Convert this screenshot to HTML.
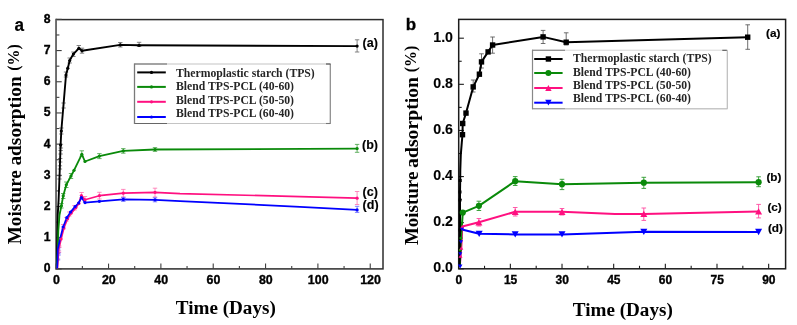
<!DOCTYPE html>
<html><head><meta charset="utf-8"><style>
html,body{margin:0;padding:0;background:#fff;}
svg{display:block;will-change:transform;}
</style></head><body>
<svg width="797" height="325" viewBox="0 0 797 325">
<rect width="797" height="325" fill="#fff"/>
<rect x="56.2" y="19.6" width="326.8" height="249.3" fill="none" stroke="#2c2c2c" stroke-width="1.5"/>
<line x1="56.2" y1="18.85" x2="56.2" y2="269.65" stroke="#6a6a6a" stroke-width="1.6"/>
<line x1="56.2" y1="268.9" x2="61.7" y2="268.9" stroke="#404040" stroke-width="1.1"/>
<text x="50.6" y="272.3" font-family="Liberation Sans" font-size="12.2" font-weight="bold" text-anchor="end" stroke="#000" stroke-width="0.35" >0</text>
<line x1="56.2" y1="253.3" x2="59.4" y2="253.3" stroke="#404040" stroke-width="1.1"/>
<line x1="56.2" y1="237.71" x2="61.7" y2="237.71" stroke="#404040" stroke-width="1.1"/>
<text x="50.6" y="241.11" font-family="Liberation Sans" font-size="12.2" font-weight="bold" text-anchor="end" stroke="#000" stroke-width="0.35" >1</text>
<line x1="56.2" y1="222.11" x2="59.4" y2="222.11" stroke="#404040" stroke-width="1.1"/>
<line x1="56.2" y1="206.52" x2="61.7" y2="206.52" stroke="#404040" stroke-width="1.1"/>
<text x="50.6" y="209.92" font-family="Liberation Sans" font-size="12.2" font-weight="bold" text-anchor="end" stroke="#000" stroke-width="0.35" >2</text>
<line x1="56.2" y1="190.92" x2="59.4" y2="190.92" stroke="#404040" stroke-width="1.1"/>
<line x1="56.2" y1="175.33" x2="61.7" y2="175.33" stroke="#404040" stroke-width="1.1"/>
<text x="50.6" y="178.73" font-family="Liberation Sans" font-size="12.2" font-weight="bold" text-anchor="end" stroke="#000" stroke-width="0.35" >3</text>
<line x1="56.2" y1="159.73" x2="59.4" y2="159.73" stroke="#404040" stroke-width="1.1"/>
<line x1="56.2" y1="144.14" x2="61.7" y2="144.14" stroke="#404040" stroke-width="1.1"/>
<text x="50.6" y="147.54" font-family="Liberation Sans" font-size="12.2" font-weight="bold" text-anchor="end" stroke="#000" stroke-width="0.35" >4</text>
<line x1="56.2" y1="128.54" x2="59.4" y2="128.54" stroke="#404040" stroke-width="1.1"/>
<line x1="56.2" y1="112.95" x2="61.7" y2="112.95" stroke="#404040" stroke-width="1.1"/>
<text x="50.6" y="116.35" font-family="Liberation Sans" font-size="12.2" font-weight="bold" text-anchor="end" stroke="#000" stroke-width="0.35" >5</text>
<line x1="56.2" y1="97.35" x2="59.4" y2="97.35" stroke="#404040" stroke-width="1.1"/>
<line x1="56.2" y1="81.76" x2="61.7" y2="81.76" stroke="#404040" stroke-width="1.1"/>
<text x="50.6" y="85.16" font-family="Liberation Sans" font-size="12.2" font-weight="bold" text-anchor="end" stroke="#000" stroke-width="0.35" >6</text>
<line x1="56.2" y1="66.16" x2="59.4" y2="66.16" stroke="#404040" stroke-width="1.1"/>
<line x1="56.2" y1="50.57" x2="61.7" y2="50.57" stroke="#404040" stroke-width="1.1"/>
<text x="50.6" y="53.97" font-family="Liberation Sans" font-size="12.2" font-weight="bold" text-anchor="end" stroke="#000" stroke-width="0.35" >7</text>
<line x1="56.2" y1="34.97" x2="59.4" y2="34.97" stroke="#404040" stroke-width="1.1"/>
<line x1="56.2" y1="19.38" x2="61.7" y2="19.38" stroke="#404040" stroke-width="1.1"/>
<text x="50.6" y="22.78" font-family="Liberation Sans" font-size="12.2" font-weight="bold" text-anchor="end" stroke="#000" stroke-width="0.35" >8</text>
<line x1="56.2" y1="268.9" x2="56.2" y2="263.6" stroke="#404040" stroke-width="1.1"/>
<text x="56.5" y="284.2" font-family="Liberation Sans" font-size="12.4" font-weight="bold" text-anchor="middle" stroke="#000" stroke-width="0.35" >0</text>
<line x1="82.37" y1="268.9" x2="82.37" y2="265.9" stroke="#404040" stroke-width="1.1"/>
<line x1="108.54" y1="268.9" x2="108.54" y2="263.6" stroke="#404040" stroke-width="1.1"/>
<text x="108.84" y="284.2" font-family="Liberation Sans" font-size="12.4" font-weight="bold" text-anchor="middle" stroke="#000" stroke-width="0.35" >20</text>
<line x1="134.71" y1="268.9" x2="134.71" y2="265.9" stroke="#404040" stroke-width="1.1"/>
<line x1="160.88" y1="268.9" x2="160.88" y2="263.6" stroke="#404040" stroke-width="1.1"/>
<text x="161.18" y="284.2" font-family="Liberation Sans" font-size="12.4" font-weight="bold" text-anchor="middle" stroke="#000" stroke-width="0.35" >40</text>
<line x1="187.05" y1="268.9" x2="187.05" y2="265.9" stroke="#404040" stroke-width="1.1"/>
<line x1="213.22" y1="268.9" x2="213.22" y2="263.6" stroke="#404040" stroke-width="1.1"/>
<text x="213.52" y="284.2" font-family="Liberation Sans" font-size="12.4" font-weight="bold" text-anchor="middle" stroke="#000" stroke-width="0.35" >60</text>
<line x1="239.39" y1="268.9" x2="239.39" y2="265.9" stroke="#404040" stroke-width="1.1"/>
<line x1="265.56" y1="268.9" x2="265.56" y2="263.6" stroke="#404040" stroke-width="1.1"/>
<text x="265.86" y="284.2" font-family="Liberation Sans" font-size="12.4" font-weight="bold" text-anchor="middle" stroke="#000" stroke-width="0.35" >80</text>
<line x1="291.73" y1="268.9" x2="291.73" y2="265.9" stroke="#404040" stroke-width="1.1"/>
<line x1="317.9" y1="268.9" x2="317.9" y2="263.6" stroke="#404040" stroke-width="1.1"/>
<text x="318.2" y="284.2" font-family="Liberation Sans" font-size="12.4" font-weight="bold" text-anchor="middle" stroke="#000" stroke-width="0.35" >100</text>
<line x1="344.07" y1="268.9" x2="344.07" y2="265.9" stroke="#404040" stroke-width="1.1"/>
<line x1="370.24" y1="268.9" x2="370.24" y2="263.6" stroke="#404040" stroke-width="1.1"/>
<text x="370.54" y="284.2" font-family="Liberation Sans" font-size="12.4" font-weight="bold" text-anchor="middle" stroke="#000" stroke-width="0.35" >120</text>
<text x="225.8" y="313.6" font-family="Liberation Serif" font-size="18.9" font-weight="bold" text-anchor="middle" textLength="100" lengthAdjust="spacingAndGlyphs">Time (Days)</text>
<text transform="translate(21,244.3) rotate(-90) scale(1.048,1)" font-family="Liberation Serif" font-size="18.3" font-weight="bold">Moisture</text>
<text transform="translate(21,165.6) rotate(-90) scale(1.06,1)" font-family="Liberation Serif" font-size="18.3" font-weight="bold">adsorption</text>
<text transform="translate(18.85,70.85) rotate(-90) scale(1.0,1)" font-family="Liberation Serif" font-size="16" font-weight="bold">(%)</text>
<text transform="translate(14.6,30.6) scale(0.9,1)" font-family="Liberation Sans" font-size="19" font-weight="bold" stroke="#000" stroke-width="0.2">a</text>
<line x1="78.8" y1="45.5" x2="78.8" y2="49.5" stroke="#666" stroke-width="0.8"/>
<line x1="76.6" y1="45.5" x2="81" y2="45.5" stroke="#666" stroke-width="0.8"/>
<line x1="76.6" y1="49.5" x2="81" y2="49.5" stroke="#666" stroke-width="0.8"/>
<line x1="82" y1="48.2" x2="82" y2="53.2" stroke="#666" stroke-width="0.8"/>
<line x1="79.8" y1="48.2" x2="84.2" y2="48.2" stroke="#666" stroke-width="0.8"/>
<line x1="79.8" y1="53.2" x2="84.2" y2="53.2" stroke="#666" stroke-width="0.8"/>
<line x1="120.3" y1="42.5" x2="120.3" y2="47" stroke="#666" stroke-width="0.8"/>
<line x1="118.1" y1="42.5" x2="122.5" y2="42.5" stroke="#666" stroke-width="0.8"/>
<line x1="118.1" y1="47" x2="122.5" y2="47" stroke="#666" stroke-width="0.8"/>
<line x1="139.1" y1="42.3" x2="139.1" y2="46.5" stroke="#666" stroke-width="0.8"/>
<line x1="136.9" y1="42.3" x2="141.3" y2="42.3" stroke="#666" stroke-width="0.8"/>
<line x1="136.9" y1="46.5" x2="141.3" y2="46.5" stroke="#666" stroke-width="0.8"/>
<line x1="357.1" y1="39.8" x2="357.1" y2="52" stroke="#666" stroke-width="0.8"/>
<line x1="354.9" y1="39.8" x2="359.3" y2="39.8" stroke="#666" stroke-width="0.8"/>
<line x1="354.9" y1="52" x2="359.3" y2="52" stroke="#666" stroke-width="0.8"/>
<line x1="66" y1="72" x2="66" y2="77" stroke="#666" stroke-width="0.8"/>
<line x1="63.8" y1="72" x2="68.2" y2="72" stroke="#666" stroke-width="0.8"/>
<line x1="63.8" y1="77" x2="68.2" y2="77" stroke="#666" stroke-width="0.8"/>
<line x1="69.7" y1="58" x2="69.7" y2="63" stroke="#666" stroke-width="0.8"/>
<line x1="67.5" y1="58" x2="71.9" y2="58" stroke="#666" stroke-width="0.8"/>
<line x1="67.5" y1="63" x2="71.9" y2="63" stroke="#666" stroke-width="0.8"/>
<line x1="73.4" y1="52" x2="73.4" y2="56.5" stroke="#666" stroke-width="0.8"/>
<line x1="71.2" y1="52" x2="75.6" y2="52" stroke="#666" stroke-width="0.8"/>
<line x1="71.2" y1="56.5" x2="75.6" y2="56.5" stroke="#666" stroke-width="0.8"/>
<line x1="61.3" y1="128" x2="61.3" y2="134" stroke="#666" stroke-width="0.8"/>
<line x1="59.1" y1="128" x2="63.5" y2="128" stroke="#666" stroke-width="0.8"/>
<line x1="59.1" y1="134" x2="63.5" y2="134" stroke="#666" stroke-width="0.8"/>
<line x1="63.6" y1="103" x2="63.6" y2="108" stroke="#666" stroke-width="0.8"/>
<line x1="61.4" y1="103" x2="65.8" y2="103" stroke="#666" stroke-width="0.8"/>
<line x1="61.4" y1="108" x2="65.8" y2="108" stroke="#666" stroke-width="0.8"/>
<line x1="60.9" y1="144.3" x2="60.9" y2="148" stroke="#666" stroke-width="0.8"/>
<line x1="58.7" y1="144.3" x2="63.1" y2="144.3" stroke="#666" stroke-width="0.8"/>
<line x1="58.7" y1="148" x2="63.1" y2="148" stroke="#666" stroke-width="0.8"/>
<line x1="60.6" y1="150.5" x2="60.6" y2="154" stroke="#666" stroke-width="0.8"/>
<line x1="58.4" y1="150.5" x2="62.8" y2="150.5" stroke="#666" stroke-width="0.8"/>
<line x1="58.4" y1="154" x2="62.8" y2="154" stroke="#666" stroke-width="0.8"/>
<line x1="60.2" y1="158.5" x2="60.2" y2="162" stroke="#666" stroke-width="0.8"/>
<line x1="58" y1="158.5" x2="62.4" y2="158.5" stroke="#666" stroke-width="0.8"/>
<line x1="58" y1="162" x2="62.4" y2="162" stroke="#666" stroke-width="0.8"/>
<line x1="59.9" y1="165.8" x2="59.9" y2="169" stroke="#666" stroke-width="0.8"/>
<line x1="57.7" y1="165.8" x2="62.1" y2="165.8" stroke="#666" stroke-width="0.8"/>
<line x1="57.7" y1="169" x2="62.1" y2="169" stroke="#666" stroke-width="0.8"/>
<line x1="59.5" y1="175.7" x2="59.5" y2="179" stroke="#666" stroke-width="0.8"/>
<line x1="57.3" y1="175.7" x2="61.7" y2="175.7" stroke="#666" stroke-width="0.8"/>
<line x1="57.3" y1="179" x2="61.7" y2="179" stroke="#666" stroke-width="0.8"/>
<line x1="81.8" y1="150.8" x2="81.8" y2="156.2" stroke="#40a040" stroke-width="0.8"/>
<line x1="79.6" y1="150.8" x2="84" y2="150.8" stroke="#40a040" stroke-width="0.8"/>
<line x1="79.6" y1="156.2" x2="84" y2="156.2" stroke="#40a040" stroke-width="0.8"/>
<line x1="99.4" y1="153.6" x2="99.4" y2="158.6" stroke="#40a040" stroke-width="0.8"/>
<line x1="97.2" y1="153.6" x2="101.6" y2="153.6" stroke="#40a040" stroke-width="0.8"/>
<line x1="97.2" y1="158.6" x2="101.6" y2="158.6" stroke="#40a040" stroke-width="0.8"/>
<line x1="123.3" y1="148.6" x2="123.3" y2="153.2" stroke="#40a040" stroke-width="0.8"/>
<line x1="121.1" y1="148.6" x2="125.5" y2="148.6" stroke="#40a040" stroke-width="0.8"/>
<line x1="121.1" y1="153.2" x2="125.5" y2="153.2" stroke="#40a040" stroke-width="0.8"/>
<line x1="155" y1="147.6" x2="155" y2="151.4" stroke="#40a040" stroke-width="0.8"/>
<line x1="152.8" y1="147.6" x2="157.2" y2="147.6" stroke="#40a040" stroke-width="0.8"/>
<line x1="152.8" y1="151.4" x2="157.2" y2="151.4" stroke="#40a040" stroke-width="0.8"/>
<line x1="357.1" y1="144.4" x2="357.1" y2="152.3" stroke="#40a040" stroke-width="0.8"/>
<line x1="354.9" y1="144.4" x2="359.3" y2="144.4" stroke="#40a040" stroke-width="0.8"/>
<line x1="354.9" y1="152.3" x2="359.3" y2="152.3" stroke="#40a040" stroke-width="0.8"/>
<line x1="71" y1="173.5" x2="71" y2="178.5" stroke="#40a040" stroke-width="0.8"/>
<line x1="68.8" y1="173.5" x2="73.2" y2="173.5" stroke="#40a040" stroke-width="0.8"/>
<line x1="68.8" y1="178.5" x2="73.2" y2="178.5" stroke="#40a040" stroke-width="0.8"/>
<line x1="66.3" y1="182" x2="66.3" y2="187.5" stroke="#40a040" stroke-width="0.8"/>
<line x1="64.1" y1="182" x2="68.5" y2="182" stroke="#40a040" stroke-width="0.8"/>
<line x1="64.1" y1="187.5" x2="68.5" y2="187.5" stroke="#40a040" stroke-width="0.8"/>
<line x1="63.2" y1="193.5" x2="63.2" y2="198.5" stroke="#40a040" stroke-width="0.8"/>
<line x1="61" y1="193.5" x2="65.4" y2="193.5" stroke="#40a040" stroke-width="0.8"/>
<line x1="61" y1="198.5" x2="65.4" y2="198.5" stroke="#40a040" stroke-width="0.8"/>
<line x1="61.4" y1="203.5" x2="61.4" y2="208" stroke="#40a040" stroke-width="0.8"/>
<line x1="59.2" y1="203.5" x2="63.6" y2="203.5" stroke="#40a040" stroke-width="0.8"/>
<line x1="59.2" y1="208" x2="63.6" y2="208" stroke="#40a040" stroke-width="0.8"/>
<line x1="81.6" y1="192.5" x2="81.6" y2="198.5" stroke="#ff70b0" stroke-width="0.8"/>
<line x1="79.4" y1="192.5" x2="83.8" y2="192.5" stroke="#ff70b0" stroke-width="0.8"/>
<line x1="79.4" y1="198.5" x2="83.8" y2="198.5" stroke="#ff70b0" stroke-width="0.8"/>
<line x1="85" y1="196.5" x2="85" y2="202" stroke="#ff70b0" stroke-width="0.8"/>
<line x1="82.8" y1="196.5" x2="87.2" y2="196.5" stroke="#ff70b0" stroke-width="0.8"/>
<line x1="82.8" y1="202" x2="87.2" y2="202" stroke="#ff70b0" stroke-width="0.8"/>
<line x1="99.4" y1="192.3" x2="99.4" y2="199" stroke="#ff70b0" stroke-width="0.8"/>
<line x1="97.2" y1="192.3" x2="101.6" y2="192.3" stroke="#ff70b0" stroke-width="0.8"/>
<line x1="97.2" y1="199" x2="101.6" y2="199" stroke="#ff70b0" stroke-width="0.8"/>
<line x1="123.3" y1="189.4" x2="123.3" y2="197" stroke="#ff70b0" stroke-width="0.8"/>
<line x1="121.1" y1="189.4" x2="125.5" y2="189.4" stroke="#ff70b0" stroke-width="0.8"/>
<line x1="121.1" y1="197" x2="125.5" y2="197" stroke="#ff70b0" stroke-width="0.8"/>
<line x1="155" y1="188.2" x2="155" y2="197" stroke="#ff70b0" stroke-width="0.8"/>
<line x1="152.8" y1="188.2" x2="157.2" y2="188.2" stroke="#ff70b0" stroke-width="0.8"/>
<line x1="152.8" y1="197" x2="157.2" y2="197" stroke="#ff70b0" stroke-width="0.8"/>
<line x1="357.1" y1="191.5" x2="357.1" y2="204.5" stroke="#ff70b0" stroke-width="0.8"/>
<line x1="354.9" y1="191.5" x2="359.3" y2="191.5" stroke="#ff70b0" stroke-width="0.8"/>
<line x1="354.9" y1="204.5" x2="359.3" y2="204.5" stroke="#ff70b0" stroke-width="0.8"/>
<line x1="74.5" y1="205.5" x2="74.5" y2="210" stroke="#ff70b0" stroke-width="0.8"/>
<line x1="72.3" y1="205.5" x2="76.7" y2="205.5" stroke="#ff70b0" stroke-width="0.8"/>
<line x1="72.3" y1="210" x2="76.7" y2="210" stroke="#ff70b0" stroke-width="0.8"/>
<line x1="69.3" y1="212" x2="69.3" y2="216" stroke="#ff70b0" stroke-width="0.8"/>
<line x1="67.1" y1="212" x2="71.5" y2="212" stroke="#ff70b0" stroke-width="0.8"/>
<line x1="67.1" y1="216" x2="71.5" y2="216" stroke="#ff70b0" stroke-width="0.8"/>
<line x1="66.4" y1="217.5" x2="66.4" y2="221" stroke="#ff70b0" stroke-width="0.8"/>
<line x1="64.2" y1="217.5" x2="68.6" y2="217.5" stroke="#ff70b0" stroke-width="0.8"/>
<line x1="64.2" y1="221" x2="68.6" y2="221" stroke="#ff70b0" stroke-width="0.8"/>
<line x1="63.2" y1="224.5" x2="63.2" y2="229" stroke="#ff70b0" stroke-width="0.8"/>
<line x1="61" y1="224.5" x2="65.4" y2="224.5" stroke="#ff70b0" stroke-width="0.8"/>
<line x1="61" y1="229" x2="65.4" y2="229" stroke="#ff70b0" stroke-width="0.8"/>
<line x1="59.3" y1="246" x2="59.3" y2="247.5" stroke="#ff70b0" stroke-width="0.8"/>
<line x1="57.1" y1="246" x2="61.5" y2="246" stroke="#ff70b0" stroke-width="0.8"/>
<line x1="57.1" y1="247.5" x2="61.5" y2="247.5" stroke="#ff70b0" stroke-width="0.8"/>
<line x1="59" y1="251" x2="59" y2="252.5" stroke="#ff70b0" stroke-width="0.8"/>
<line x1="56.8" y1="251" x2="61.2" y2="251" stroke="#ff70b0" stroke-width="0.8"/>
<line x1="56.8" y1="252.5" x2="61.2" y2="252.5" stroke="#ff70b0" stroke-width="0.8"/>
<line x1="58.3" y1="248" x2="58.3" y2="250" stroke="#6060ff" stroke-width="0.8"/>
<line x1="56.1" y1="248" x2="60.5" y2="248" stroke="#6060ff" stroke-width="0.8"/>
<line x1="56.1" y1="250" x2="60.5" y2="250" stroke="#6060ff" stroke-width="0.8"/>
<line x1="58.6" y1="253" x2="58.6" y2="255" stroke="#6060ff" stroke-width="0.8"/>
<line x1="56.4" y1="253" x2="60.8" y2="253" stroke="#6060ff" stroke-width="0.8"/>
<line x1="56.4" y1="255" x2="60.8" y2="255" stroke="#6060ff" stroke-width="0.8"/>
<line x1="58" y1="259" x2="58" y2="260" stroke="#6060ff" stroke-width="0.8"/>
<line x1="55.8" y1="259" x2="60.2" y2="259" stroke="#6060ff" stroke-width="0.8"/>
<line x1="55.8" y1="260" x2="60.2" y2="260" stroke="#6060ff" stroke-width="0.8"/>
<line x1="123.3" y1="197.4" x2="123.3" y2="201.4" stroke="#6060ff" stroke-width="0.8"/>
<line x1="121.1" y1="197.4" x2="125.5" y2="197.4" stroke="#6060ff" stroke-width="0.8"/>
<line x1="121.1" y1="201.4" x2="125.5" y2="201.4" stroke="#6060ff" stroke-width="0.8"/>
<line x1="155" y1="197.8" x2="155" y2="201.8" stroke="#6060ff" stroke-width="0.8"/>
<line x1="152.8" y1="197.8" x2="157.2" y2="197.8" stroke="#6060ff" stroke-width="0.8"/>
<line x1="152.8" y1="201.8" x2="157.2" y2="201.8" stroke="#6060ff" stroke-width="0.8"/>
<line x1="357.1" y1="206.3" x2="357.1" y2="212.4" stroke="#6060ff" stroke-width="0.8"/>
<line x1="354.9" y1="206.3" x2="359.3" y2="206.3" stroke="#6060ff" stroke-width="0.8"/>
<line x1="354.9" y1="212.4" x2="359.3" y2="212.4" stroke="#6060ff" stroke-width="0.8"/>
<polyline points="56.9,268.5 57,258 57.3,235 57.7,215 58.6,200 59.2,185 60,163 60.6,145 61.3,131 66,75 67.8,68.2 69.7,60.5 71.5,57.2 73.4,54.1 78.8,48.3 82,50.8 120.3,44.9 139.1,45.3 357.1,46.1" fill="none" stroke="#000000" stroke-width="1.9" stroke-linejoin="round" />
<polyline points="56.8,268.5 57.8,250 58.3,231 59.5,215 61.4,205.8 63.2,195.9 66.3,184.8 71,176 74,170.3 81.8,154.3 85,161.5 99.4,156.1 123.3,150.9 155,149.5 357.1,148.6" fill="none" stroke="#0a8a0a" stroke-width="1.8" stroke-linejoin="round" />
<polyline points="57.4,268.5 58.2,258 58.6,250 61.1,239 63.9,228 67.6,218.7 71.3,213.1 75.9,207.6 78.9,203.5 81.4,195.5 85,199.8 99.4,195.7 123.3,193.2 155,192.3 180,193.6 300,196.6 357.1,198.2" fill="none" stroke="#ff1080" stroke-width="1.7" stroke-linejoin="round" />
<polyline points="57.2,268.5 57.6,258 57.8,249 60.3,238 63.1,227 66.8,217.7 70.5,212.1 75.1,206.6 78.6,203 81.4,197.6 85,202.6 99.4,201.3 123.3,199.4 155,199.8 180,201.1 300,206.8 357.1,209.9" fill="none" stroke="#0000ff" stroke-width="1.7" stroke-linejoin="round" />
<circle cx="60.6" cy="145" r="1.6" fill="#000000"/>
<circle cx="61.3" cy="131" r="1.6" fill="#000000"/>
<circle cx="66" cy="75" r="1.6" fill="#000000"/>
<circle cx="67.8" cy="68.2" r="1.6" fill="#000000"/>
<circle cx="69.7" cy="60.5" r="1.6" fill="#000000"/>
<circle cx="73.4" cy="54.1" r="1.6" fill="#000000"/>
<circle cx="78.8" cy="48.3" r="1.6" fill="#000000"/>
<circle cx="82" cy="50.8" r="1.6" fill="#000000"/>
<circle cx="120.3" cy="44.9" r="1.6" fill="#000000"/>
<circle cx="139.1" cy="45.3" r="1.6" fill="#000000"/>
<circle cx="357.1" cy="46.1" r="1.6" fill="#000000"/>
<circle cx="61.4" cy="205.8" r="1.6" fill="#0a8a0a"/>
<circle cx="63.2" cy="195.9" r="1.6" fill="#0a8a0a"/>
<circle cx="66.3" cy="184.8" r="1.6" fill="#0a8a0a"/>
<circle cx="71" cy="176" r="1.6" fill="#0a8a0a"/>
<circle cx="74" cy="170.3" r="1.6" fill="#0a8a0a"/>
<circle cx="81.8" cy="154.3" r="1.6" fill="#0a8a0a"/>
<circle cx="85" cy="161.5" r="1.6" fill="#0a8a0a"/>
<circle cx="99.4" cy="156.1" r="1.6" fill="#0a8a0a"/>
<circle cx="123.3" cy="150.9" r="1.6" fill="#0a8a0a"/>
<circle cx="155" cy="149.5" r="1.6" fill="#0a8a0a"/>
<circle cx="357.1" cy="148.6" r="1.6" fill="#0a8a0a"/>
<circle cx="61.1" cy="239" r="1.6" fill="#ff1080"/>
<circle cx="63.9" cy="228" r="1.6" fill="#ff1080"/>
<circle cx="67.6" cy="218.7" r="1.6" fill="#ff1080"/>
<circle cx="71.3" cy="213.1" r="1.6" fill="#ff1080"/>
<circle cx="75.9" cy="207.6" r="1.6" fill="#ff1080"/>
<circle cx="78.9" cy="203.5" r="1.6" fill="#ff1080"/>
<circle cx="81.4" cy="195.5" r="1.6" fill="#ff1080"/>
<circle cx="85" cy="199.8" r="1.6" fill="#ff1080"/>
<circle cx="99.4" cy="195.7" r="1.6" fill="#ff1080"/>
<circle cx="123.3" cy="193.2" r="1.6" fill="#ff1080"/>
<circle cx="155" cy="192.3" r="1.6" fill="#ff1080"/>
<circle cx="357.1" cy="198.2" r="1.6" fill="#ff1080"/>
<circle cx="63.1" cy="227" r="1.6" fill="#0000ff"/>
<circle cx="66.8" cy="217.7" r="1.6" fill="#0000ff"/>
<circle cx="70.5" cy="212.1" r="1.6" fill="#0000ff"/>
<circle cx="75.1" cy="206.6" r="1.6" fill="#0000ff"/>
<circle cx="78.6" cy="203" r="1.6" fill="#0000ff"/>
<circle cx="81.4" cy="197.6" r="1.6" fill="#0000ff"/>
<circle cx="85" cy="202.6" r="1.6" fill="#0000ff"/>
<circle cx="99.4" cy="201.3" r="1.6" fill="#0000ff"/>
<circle cx="123.3" cy="199.4" r="1.6" fill="#0000ff"/>
<circle cx="155" cy="199.8" r="1.6" fill="#0000ff"/>
<circle cx="357.1" cy="209.9" r="1.6" fill="#0000ff"/>
<text transform="translate(362.6,47.4) scale(1.0,1)" font-family="Liberation Sans" font-size="12.5" font-weight="bold" stroke="#000" stroke-width="0.15">(a)</text>
<text transform="translate(362,149) scale(1.0,1)" font-family="Liberation Sans" font-size="12.5" font-weight="bold" stroke="#000" stroke-width="0.15">(b)</text>
<text transform="translate(362.6,195.9) scale(1.0,1)" font-family="Liberation Sans" font-size="12.5" font-weight="bold" stroke="#000" stroke-width="0.15">(c)</text>
<text transform="translate(362.6,209.3) scale(1.0,1)" font-family="Liberation Sans" font-size="12.5" font-weight="bold" stroke="#000" stroke-width="0.15">(d)</text>
<rect x="134.5" y="64" width="195.8" height="59.5" fill="#fff" stroke="#c4c4c4" stroke-width="1"/>
<line x1="134.5" y1="64" x2="167" y2="64" stroke="#666" stroke-width="1.2"/>
<line x1="134.5" y1="123.5" x2="167" y2="123.5" stroke="#666" stroke-width="1.2"/>
<line x1="134.5" y1="63.5" x2="134.5" y2="124" stroke="#7a7a7a" stroke-width="1.3"/>
<line x1="330.3" y1="64" x2="330.3" y2="123.5" stroke="#8a8a8a" stroke-width="1.1"/>
<line x1="326" y1="64" x2="330.5" y2="64" stroke="#555" stroke-width="1.2"/>
<line x1="326" y1="123.5" x2="330.5" y2="123.5" stroke="#777" stroke-width="1.1"/>
<line x1="137.2" y1="72.4" x2="165.8" y2="72.4" stroke="#000000" stroke-width="2.0"/>
<circle cx="151.5" cy="72.4" r="1.6" fill="#000000"/>
<line x1="137.2" y1="86.9" x2="165.8" y2="86.9" stroke="#0a8a0a" stroke-width="2.0"/>
<circle cx="151.5" cy="86.9" r="1.6" fill="#0a8a0a"/>
<line x1="137.2" y1="101.8" x2="165.8" y2="101.8" stroke="#ff1080" stroke-width="2.0"/>
<circle cx="151.5" cy="101.8" r="1.6" fill="#ff1080"/>
<line x1="137.2" y1="117" x2="165.8" y2="117" stroke="#0000ff" stroke-width="2.0"/>
<circle cx="151.5" cy="117" r="1.6" fill="#0000ff"/>
<text x="176" y="76.6" font-family="Liberation Serif" font-size="11.7" font-weight="bold" text-anchor="start" fill="#262626">Thermoplastic starch (TPS)</text>
<text x="176" y="89.8" font-family="Liberation Serif" font-size="11.7" font-weight="bold" text-anchor="start" fill="#262626">Blend TPS-PCL (40-60)</text>
<text x="176" y="104" font-family="Liberation Serif" font-size="11.7" font-weight="bold" text-anchor="start" fill="#262626">Blend TPS-PCL (50-50)</text>
<text x="176" y="117.2" font-family="Liberation Serif" font-size="11.7" font-weight="bold" text-anchor="start" fill="#262626">Blend TPS-PCL (60-40)</text>
<rect x="458.7" y="19.4" width="326.9" height="249.4" fill="none" stroke="#1c1c1c" stroke-width="1.5"/>
<line x1="458.7" y1="268.8" x2="463.9" y2="268.8" stroke="#1c1c1c" stroke-width="1.1"/>
<text x="453" y="272.1" font-family="Liberation Sans" font-size="14.2" font-weight="bold" text-anchor="end" stroke="#000" stroke-width="0.12" >0.0</text>
<line x1="458.7" y1="245.74" x2="461.7" y2="245.74" stroke="#1c1c1c" stroke-width="1.1"/>
<line x1="458.7" y1="222.68" x2="463.9" y2="222.68" stroke="#1c1c1c" stroke-width="1.1"/>
<text x="453" y="225.98" font-family="Liberation Sans" font-size="14.2" font-weight="bold" text-anchor="end" stroke="#000" stroke-width="0.12" >0.2</text>
<line x1="458.7" y1="199.62" x2="461.7" y2="199.62" stroke="#1c1c1c" stroke-width="1.1"/>
<line x1="458.7" y1="176.56" x2="463.9" y2="176.56" stroke="#1c1c1c" stroke-width="1.1"/>
<text x="453" y="179.86" font-family="Liberation Sans" font-size="14.2" font-weight="bold" text-anchor="end" stroke="#000" stroke-width="0.12" >0.4</text>
<line x1="458.7" y1="153.5" x2="461.7" y2="153.5" stroke="#1c1c1c" stroke-width="1.1"/>
<line x1="458.7" y1="130.44" x2="463.9" y2="130.44" stroke="#1c1c1c" stroke-width="1.1"/>
<text x="453" y="133.74" font-family="Liberation Sans" font-size="14.2" font-weight="bold" text-anchor="end" stroke="#000" stroke-width="0.12" >0.6</text>
<line x1="458.7" y1="107.38" x2="461.7" y2="107.38" stroke="#1c1c1c" stroke-width="1.1"/>
<line x1="458.7" y1="84.32" x2="463.9" y2="84.32" stroke="#1c1c1c" stroke-width="1.1"/>
<text x="453" y="87.62" font-family="Liberation Sans" font-size="14.2" font-weight="bold" text-anchor="end" stroke="#000" stroke-width="0.12" >0.8</text>
<line x1="458.7" y1="61.26" x2="461.7" y2="61.26" stroke="#1c1c1c" stroke-width="1.1"/>
<line x1="458.7" y1="38.2" x2="463.9" y2="38.2" stroke="#1c1c1c" stroke-width="1.1"/>
<text x="453" y="41.5" font-family="Liberation Sans" font-size="14.2" font-weight="bold" text-anchor="end" stroke="#000" stroke-width="0.12" >1.0</text>
<line x1="458.7" y1="268.8" x2="458.7" y2="263.8" stroke="#1c1c1c" stroke-width="1.1"/>
<text x="458.9" y="284" font-family="Liberation Sans" font-size="12.0" font-weight="bold" text-anchor="middle" stroke="#000" stroke-width="0.35" >0</text>
<line x1="484.53" y1="268.8" x2="484.53" y2="265.8" stroke="#1c1c1c" stroke-width="1.1"/>
<line x1="510.36" y1="268.8" x2="510.36" y2="263.8" stroke="#1c1c1c" stroke-width="1.1"/>
<text x="510.56" y="284" font-family="Liberation Sans" font-size="12.0" font-weight="bold" text-anchor="middle" stroke="#000" stroke-width="0.35" >15</text>
<line x1="536.19" y1="268.8" x2="536.19" y2="265.8" stroke="#1c1c1c" stroke-width="1.1"/>
<line x1="562.02" y1="268.8" x2="562.02" y2="263.8" stroke="#1c1c1c" stroke-width="1.1"/>
<text x="562.22" y="284" font-family="Liberation Sans" font-size="12.0" font-weight="bold" text-anchor="middle" stroke="#000" stroke-width="0.35" >30</text>
<line x1="587.85" y1="268.8" x2="587.85" y2="265.8" stroke="#1c1c1c" stroke-width="1.1"/>
<line x1="613.68" y1="268.8" x2="613.68" y2="263.8" stroke="#1c1c1c" stroke-width="1.1"/>
<text x="613.88" y="284" font-family="Liberation Sans" font-size="12.0" font-weight="bold" text-anchor="middle" stroke="#000" stroke-width="0.35" >45</text>
<line x1="639.51" y1="268.8" x2="639.51" y2="265.8" stroke="#1c1c1c" stroke-width="1.1"/>
<line x1="665.34" y1="268.8" x2="665.34" y2="263.8" stroke="#1c1c1c" stroke-width="1.1"/>
<text x="665.54" y="284" font-family="Liberation Sans" font-size="12.0" font-weight="bold" text-anchor="middle" stroke="#000" stroke-width="0.35" >60</text>
<line x1="691.17" y1="268.8" x2="691.17" y2="265.8" stroke="#1c1c1c" stroke-width="1.1"/>
<line x1="717" y1="268.8" x2="717" y2="263.8" stroke="#1c1c1c" stroke-width="1.1"/>
<text x="717.2" y="284" font-family="Liberation Sans" font-size="12.0" font-weight="bold" text-anchor="middle" stroke="#000" stroke-width="0.35" >75</text>
<line x1="742.83" y1="268.8" x2="742.83" y2="265.8" stroke="#1c1c1c" stroke-width="1.1"/>
<line x1="768.66" y1="268.8" x2="768.66" y2="263.8" stroke="#1c1c1c" stroke-width="1.1"/>
<text x="768.86" y="284" font-family="Liberation Sans" font-size="12.0" font-weight="bold" text-anchor="middle" stroke="#000" stroke-width="0.35" >90</text>
<text x="622.8" y="315.5" font-family="Liberation Serif" font-size="18.9" font-weight="bold" text-anchor="middle" textLength="100" lengthAdjust="spacingAndGlyphs">Time (Days)</text>
<text transform="translate(418.4,245.1) rotate(-90) scale(1.038,1)" font-family="Liberation Serif" font-size="18.3" font-weight="bold">Moisture</text>
<text transform="translate(418.4,167.9) rotate(-90) scale(1.079,1)" font-family="Liberation Serif" font-size="18.3" font-weight="bold">adsorption</text>
<text transform="translate(416.15,72.35) rotate(-90) scale(1.0,1)" font-family="Liberation Serif" font-size="16" font-weight="bold">(%)</text>
<text x="405.8" y="30.1" font-family="Liberation Sans" font-size="17" font-weight="bold" text-anchor="start" stroke="#000" stroke-width="0.3" >b</text>
<line x1="492.6" y1="37" x2="492.6" y2="53.2" stroke="#555" stroke-width="0.85"/>
<line x1="490.3" y1="37" x2="494.9" y2="37" stroke="#555" stroke-width="0.85"/>
<line x1="490.3" y1="53.2" x2="494.9" y2="53.2" stroke="#555" stroke-width="0.85"/>
<line x1="481.5" y1="53.8" x2="481.5" y2="68" stroke="#555" stroke-width="0.85"/>
<line x1="479.2" y1="53.8" x2="483.8" y2="53.8" stroke="#555" stroke-width="0.85"/>
<line x1="479.2" y1="68" x2="483.8" y2="68" stroke="#555" stroke-width="0.85"/>
<line x1="473.2" y1="80" x2="473.2" y2="92" stroke="#555" stroke-width="0.85"/>
<line x1="470.9" y1="80" x2="475.5" y2="80" stroke="#555" stroke-width="0.85"/>
<line x1="470.9" y1="92" x2="475.5" y2="92" stroke="#555" stroke-width="0.85"/>
<line x1="543.1" y1="30.4" x2="543.1" y2="43.5" stroke="#555" stroke-width="0.85"/>
<line x1="540.8" y1="30.4" x2="545.4" y2="30.4" stroke="#555" stroke-width="0.85"/>
<line x1="540.8" y1="43.5" x2="545.4" y2="43.5" stroke="#555" stroke-width="0.85"/>
<line x1="566.2" y1="32.8" x2="566.2" y2="45" stroke="#555" stroke-width="0.85"/>
<line x1="563.9" y1="32.8" x2="568.5" y2="32.8" stroke="#555" stroke-width="0.85"/>
<line x1="563.9" y1="45" x2="568.5" y2="45" stroke="#555" stroke-width="0.85"/>
<line x1="747.7" y1="24.8" x2="747.7" y2="49.3" stroke="#555" stroke-width="0.85"/>
<line x1="745.4" y1="24.8" x2="750" y2="24.8" stroke="#555" stroke-width="0.85"/>
<line x1="745.4" y1="49.3" x2="750" y2="49.3" stroke="#555" stroke-width="0.85"/>
<line x1="478.9" y1="201.2" x2="478.9" y2="210.5" stroke="#2a9a2a" stroke-width="0.9"/>
<line x1="476.6" y1="201.2" x2="481.2" y2="201.2" stroke="#2a9a2a" stroke-width="0.9"/>
<line x1="476.6" y1="210.5" x2="481.2" y2="210.5" stroke="#2a9a2a" stroke-width="0.9"/>
<line x1="515.2" y1="176.6" x2="515.2" y2="185.5" stroke="#2a9a2a" stroke-width="0.9"/>
<line x1="512.9" y1="176.6" x2="517.5" y2="176.6" stroke="#2a9a2a" stroke-width="0.9"/>
<line x1="512.9" y1="185.5" x2="517.5" y2="185.5" stroke="#2a9a2a" stroke-width="0.9"/>
<line x1="562" y1="179.3" x2="562" y2="189.6" stroke="#2a9a2a" stroke-width="0.9"/>
<line x1="559.7" y1="179.3" x2="564.3" y2="179.3" stroke="#2a9a2a" stroke-width="0.9"/>
<line x1="559.7" y1="189.6" x2="564.3" y2="189.6" stroke="#2a9a2a" stroke-width="0.9"/>
<line x1="643.8" y1="177.3" x2="643.8" y2="188.4" stroke="#2a9a2a" stroke-width="0.9"/>
<line x1="641.5" y1="177.3" x2="646.1" y2="177.3" stroke="#2a9a2a" stroke-width="0.9"/>
<line x1="641.5" y1="188.4" x2="646.1" y2="188.4" stroke="#2a9a2a" stroke-width="0.9"/>
<line x1="758.6" y1="176.8" x2="758.6" y2="186.7" stroke="#2a9a2a" stroke-width="0.9"/>
<line x1="756.3" y1="176.8" x2="760.9" y2="176.8" stroke="#2a9a2a" stroke-width="0.9"/>
<line x1="756.3" y1="186.7" x2="760.9" y2="186.7" stroke="#2a9a2a" stroke-width="0.9"/>
<line x1="478.9" y1="218.5" x2="478.9" y2="226" stroke="#ff4aa0" stroke-width="0.9"/>
<line x1="476.6" y1="218.5" x2="481.2" y2="218.5" stroke="#ff4aa0" stroke-width="0.9"/>
<line x1="476.6" y1="226" x2="481.2" y2="226" stroke="#ff4aa0" stroke-width="0.9"/>
<line x1="515.2" y1="207.5" x2="515.2" y2="216" stroke="#ff4aa0" stroke-width="0.9"/>
<line x1="512.9" y1="207.5" x2="517.5" y2="207.5" stroke="#ff4aa0" stroke-width="0.9"/>
<line x1="512.9" y1="216" x2="517.5" y2="216" stroke="#ff4aa0" stroke-width="0.9"/>
<line x1="562" y1="208.5" x2="562" y2="215" stroke="#ff4aa0" stroke-width="0.9"/>
<line x1="559.7" y1="208.5" x2="564.3" y2="208.5" stroke="#ff4aa0" stroke-width="0.9"/>
<line x1="559.7" y1="215" x2="564.3" y2="215" stroke="#ff4aa0" stroke-width="0.9"/>
<line x1="643.8" y1="208" x2="643.8" y2="220.4" stroke="#ff4aa0" stroke-width="0.9"/>
<line x1="641.5" y1="208" x2="646.1" y2="208" stroke="#ff4aa0" stroke-width="0.9"/>
<line x1="641.5" y1="220.4" x2="646.1" y2="220.4" stroke="#ff4aa0" stroke-width="0.9"/>
<line x1="758.6" y1="204.4" x2="758.6" y2="217.9" stroke="#ff4aa0" stroke-width="0.9"/>
<line x1="756.3" y1="204.4" x2="760.9" y2="204.4" stroke="#ff4aa0" stroke-width="0.9"/>
<line x1="756.3" y1="217.9" x2="760.9" y2="217.9" stroke="#ff4aa0" stroke-width="0.9"/>
<polyline points="459.8,267 460.3,254 461,242 462,229.5 479.2,233.8 515.2,234.4 562,234.4 643.8,231.8 758.6,232" fill="none" stroke="#0000ff" stroke-width="2.0" stroke-linejoin="round" />
<polyline points="459.8,267 460.5,256 461.3,248 462.3,226.5 478.9,222.3 515.2,211.8 562,211.8 615,213.9 643.8,213.9 758.6,211.4" fill="none" stroke="#ff1080" stroke-width="2.0" stroke-linejoin="round" />
<polyline points="459.8,267 460.3,250 461,238 462.8,212.6 478.9,205.8 515.2,181.2 562,184.2 643.8,182.7 758.6,182.2" fill="none" stroke="#0a8a0a" stroke-width="2.0" stroke-linejoin="round" />
<polyline points="459.6,267 459.8,250 460,230 460,200 460,192 460.2,180.5 460.3,169.4 460.8,154.6 461.8,142.3 462.5,134.7 462.7,123.5 466,113.1 473.2,86.9 479.4,74.2 481.5,61.9 488.1,51.9 492.6,45 543.1,36.9 566.2,42.2 747.7,37.2" fill="none" stroke="#000000" stroke-width="2.0" stroke-linejoin="round" />
<rect x="458.3" y="248.5" width="3" height="3" fill="#000000"/>
<rect x="458.5" y="228.5" width="3" height="3" fill="#000000"/>
<rect x="458.5" y="198.5" width="3" height="3" fill="#000000"/>
<rect x="458.5" y="190.5" width="3" height="3" fill="#000000"/>
<rect x="458.7" y="179" width="3" height="3" fill="#000000"/>
<rect x="459.8" y="132" width="5.4" height="5.4" fill="#000000"/>
<rect x="460" y="120.8" width="5.4" height="5.4" fill="#000000"/>
<rect x="463.3" y="110.4" width="5.4" height="5.4" fill="#000000"/>
<rect x="470.5" y="84.2" width="5.4" height="5.4" fill="#000000"/>
<rect x="476.7" y="71.5" width="5.4" height="5.4" fill="#000000"/>
<rect x="478.8" y="59.2" width="5.4" height="5.4" fill="#000000"/>
<rect x="485.4" y="49.2" width="5.4" height="5.4" fill="#000000"/>
<rect x="489.9" y="42.3" width="5.4" height="5.4" fill="#000000"/>
<rect x="540.4" y="34.2" width="5.4" height="5.4" fill="#000000"/>
<rect x="563.5" y="39.5" width="5.4" height="5.4" fill="#000000"/>
<rect x="745" y="34.5" width="5.4" height="5.4" fill="#000000"/>
<circle cx="460.3" cy="250" r="1.6" fill="#0a8a0a"/>
<circle cx="461" cy="238" r="1.6" fill="#0a8a0a"/>
<circle cx="462.8" cy="212.6" r="3.1" fill="#0a8a0a"/>
<circle cx="478.9" cy="205.8" r="3.1" fill="#0a8a0a"/>
<circle cx="515.2" cy="181.2" r="3.1" fill="#0a8a0a"/>
<circle cx="562" cy="184.2" r="3.1" fill="#0a8a0a"/>
<circle cx="643.8" cy="182.7" r="3.1" fill="#0a8a0a"/>
<circle cx="758.6" cy="182.2" r="3.1" fill="#0a8a0a"/>
<polygon points="458.5,257.8 462.5,257.8 460.5,254.2" fill="#ff1080"/>
<polygon points="459.3,249.8 463.3,249.8 461.3,246.2" fill="#ff1080"/>
<polygon points="460.3,228.3 464.3,228.3 462.3,224.7" fill="#ff1080"/>
<polygon points="475.4,225.45 482.4,225.45 478.9,219.15" fill="#ff1080"/>
<polygon points="511.7,214.95 518.7,214.95 515.2,208.65" fill="#ff1080"/>
<polygon points="558.5,214.95 565.5,214.95 562,208.65" fill="#ff1080"/>
<polygon points="640.3,217.05 647.3,217.05 643.8,210.75" fill="#ff1080"/>
<polygon points="755.1,214.55 762.1,214.55 758.6,208.25" fill="#ff1080"/>
<polygon points="458.3,252.2 462.3,252.2 460.3,255.8" fill="#0000ff"/>
<polygon points="459,240.2 463,240.2 461,243.8" fill="#0000ff"/>
<polygon points="460,227.7 464,227.7 462,231.3" fill="#0000ff"/>
<polygon points="475.7,230.65 482.7,230.65 479.2,236.95" fill="#0000ff"/>
<polygon points="511.7,231.25 518.7,231.25 515.2,237.55" fill="#0000ff"/>
<polygon points="558.5,231.25 565.5,231.25 562,237.55" fill="#0000ff"/>
<polygon points="640.3,228.65 647.3,228.65 643.8,234.95" fill="#0000ff"/>
<polygon points="755.1,228.85 762.1,228.85 758.6,235.15" fill="#0000ff"/>
<polygon points="457.95,264.48 462.45,264.48 460.2,268.52" fill="#0000ff"/>
<text transform="translate(766.1,36.6) scale(1.07,1)" font-family="Liberation Sans" font-size="11.0" font-weight="bold" stroke="#000" stroke-width="0.15">(a)</text>
<text transform="translate(766.4,181) scale(1.07,1)" font-family="Liberation Sans" font-size="11.0" font-weight="bold" stroke="#000" stroke-width="0.15">(b)</text>
<text transform="translate(767.4,211) scale(1.07,1)" font-family="Liberation Sans" font-size="11.0" font-weight="bold" stroke="#000" stroke-width="0.15">(c)</text>
<text transform="translate(767.9,232) scale(1.07,1)" font-family="Liberation Sans" font-size="11.0" font-weight="bold" stroke="#000" stroke-width="0.15">(d)</text>
<rect x="532.5" y="50.2" width="194.8" height="58.6" fill="#fff" stroke="#d8d8d8" stroke-width="1"/>
<line x1="532.5" y1="50.2" x2="565" y2="50.2" stroke="#777" stroke-width="1.1"/>
<line x1="532.5" y1="108.8" x2="565" y2="108.8" stroke="#888" stroke-width="1.1"/>
<line x1="565" y1="108.8" x2="727.3" y2="108.8" stroke="#bbb" stroke-width="1.0"/>
<line x1="532.5" y1="49.7" x2="532.5" y2="109.3" stroke="#888" stroke-width="1.2"/>
<line x1="727.3" y1="50.2" x2="727.3" y2="108.8" stroke="#bbb" stroke-width="1.0"/>
<line x1="722.3" y1="50.3" x2="726.8" y2="50.3" stroke="#555" stroke-width="1.1"/>
<line x1="534.2" y1="59" x2="562.6" y2="59" stroke="#000000" stroke-width="2.0"/>
<rect x="545.7" y="56.3" width="5.4" height="5.4" fill="#000000"/>
<line x1="534.2" y1="73" x2="562.6" y2="73" stroke="#0a8a0a" stroke-width="2.0"/>
<circle cx="548.4" cy="73" r="3" fill="#0a8a0a"/>
<line x1="534.2" y1="88" x2="562.6" y2="88" stroke="#ff1080" stroke-width="2.0"/>
<polygon points="545.2,90.88 551.6,90.88 548.4,85.12" fill="#ff1080"/>
<line x1="534.2" y1="102.7" x2="562.6" y2="102.7" stroke="#0000ff" stroke-width="2.0"/>
<polygon points="545.2,99.82 551.6,99.82 548.4,105.58" fill="#0000ff"/>
<text x="573" y="61.8" font-family="Liberation Serif" font-size="11.7" font-weight="bold" text-anchor="start" fill="#262626">Thermoplastic starch (TPS)</text>
<text x="573" y="75.6" font-family="Liberation Serif" font-size="11.7" font-weight="bold" text-anchor="start" fill="#262626">Blend TPS-PCL (40-60)</text>
<text x="573" y="89" font-family="Liberation Serif" font-size="11.7" font-weight="bold" text-anchor="start" fill="#262626">Blend TPS-PCL (50-50)</text>
<text x="573" y="101.6" font-family="Liberation Serif" font-size="11.7" font-weight="bold" text-anchor="start" fill="#262626">Blend TPS-PCL (60-40)</text>
</svg>
</body></html>
